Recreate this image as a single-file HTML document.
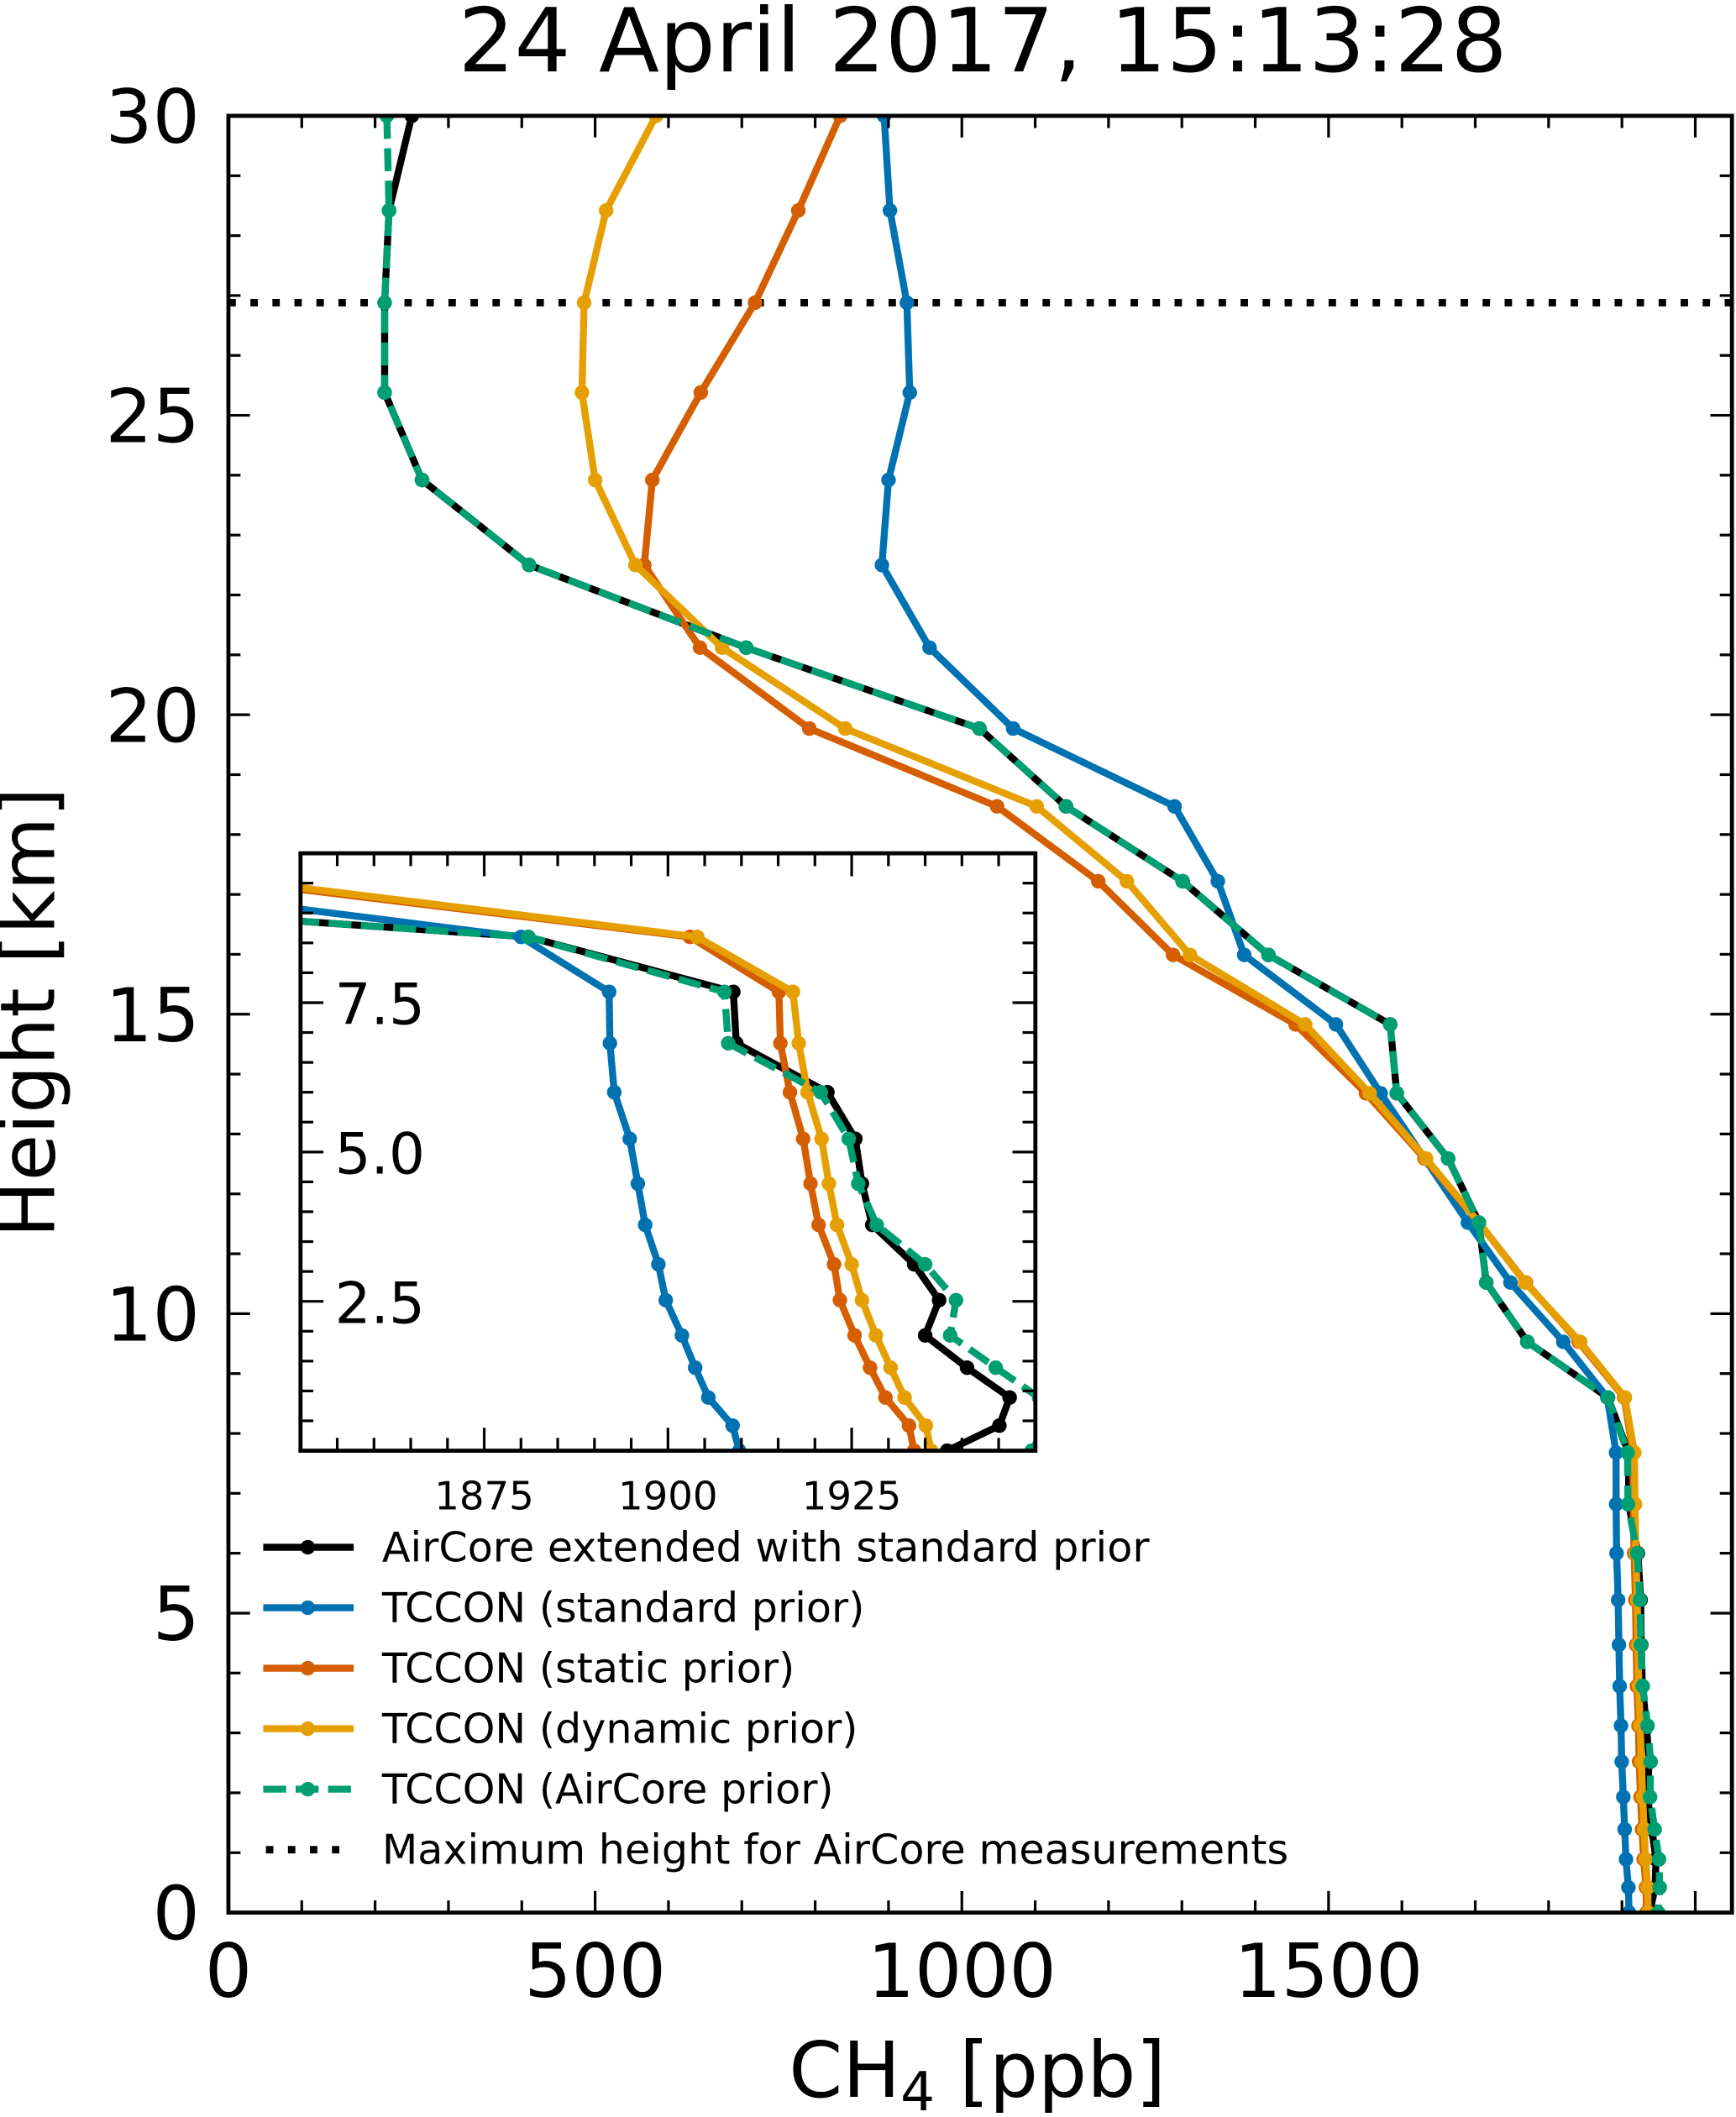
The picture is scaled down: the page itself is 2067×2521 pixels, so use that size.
<!DOCTYPE html>
<html><head><meta charset="utf-8"><title>CH4 profile 24 April 2017</title>
<style>html,body{margin:0;padding:0;background:#fff;}svg{display:block;}text{font-family:"DejaVu Sans","Liberation Sans",sans-serif;fill:#000;}</style>
</head><body>
<svg id="chart" xmlns="http://www.w3.org/2000/svg" width="2067" height="2521" viewBox="0 0 1286 1568" preserveAspectRatio="none">
<defs>
<clipPath id="mainClip"><rect x="169.2" y="85.8" width="1113.8" height="1330.8"/></clipPath>
<clipPath id="insetClip"><rect x="222.6" y="632" width="544.4" height="442.5"/></clipPath>
</defs>
<rect x="0" y="0" width="1286" height="1568" fill="#fff"/>
<text x="728" y="53" font-size="65.5" text-anchor="middle">24 April 2017, 15:13:28</text>
<g id="main"></g>
<g id="inset"></g>
<g id="legend"></g>
<text transform="translate(40,750) rotate(-90)" font-size="56" text-anchor="middle">Height [km]</text>
<text x="724" y="1553" font-size="57" text-anchor="middle">CH<tspan font-size="40" dy="10">4</tspan><tspan dy="-10"> [ppb]</tspan></text>
</svg>
<script>
const heights = [30.0,28.42,26.88,25.38,23.92,22.5,21.12,19.77,18.47,17.22,15.99,14.83,13.68,12.59,11.52,10.52,9.53,8.6,7.68,6.82,6.0,5.22,4.47,3.78,3.12,2.52,1.93,1.39,0.89,0.42,0.0];
const aircore = [250,219,213,213,264,410,706,1024,1142,1301,1418,1584,1593,1663,1705,1715,1771,1881,1908.9,1909.3,1921.7,1925.5,1926.4,1927.8,1933.5,1936.9,1935.0,1940.7,1946.5,1945.1,1938.0];
const stdPrior = [894,902,925,929,900,891,956,1070,1290,1349,1385,1510,1571,1631,1690,1748,1820,1880,1892.0,1892.1,1892.7,1894.8,1895.9,1896.9,1898.7,1899.7,1901.9,1903.7,1905.5,1908.8,1909.7];
const staticPrior = [834,777,718,644,578,567,643,792,1048,1186,1288,1455,1551,1631,1705,1769,1841,1903,1915.1,1915.3,1916.6,1918.4,1919.4,1920.5,1922.6,1923.4,1925.4,1927.5,1929.6,1932.8,1933.5];
const dynamicPrior = [583,515,485,482,500,555,673,841,1102,1225,1311,1468,1556,1633,1705,1768,1843,1904,1917.0,1917.8,1919.0,1920.9,1921.9,1923.0,1925.0,1926.4,1928.3,1930.3,1932.2,1935.1,1935.8];
const aircorePrior = [216,219,213,213,264,410,706,1024,1142,1301,1418,1584,1593,1663,1705,1715,1771,1881,1907.7,1908.2,1920.8,1924.6,1925.9,1928.4,1935.0,1939.2,1938.4,1944.6,1950.5,1951.5,1949.5];
const maxAircoreHeight = [26.88];
const mainXTicks = [0,500,1000,1500];
const mainYTicks = [0,5,10,15,20,25,30];
const insetXTicks = [1875,1900,1925];
const insetYTicks = [2.5,5.0,7.5];
const legendLabels = ["AirCore extended with standard prior","TCCON (standard prior)","TCCON (static prior)","TCCON (dynamic prior)","TCCON (AirCore prior)","Maximum height for AirCore measurements"];

const NS = "http://www.w3.org/2000/svg";
function mk(tag, attrs, parent){const e=document.createElementNS(NS,tag);for(const k in attrs)e.setAttribute(k,attrs[k]);if(parent)parent.appendChild(e);return e;}

const M = {l:169.2,r:1283,t:85.8,b:1416.6,x0:0,x1:2050,y0:0,y1:30};
const I = {l:222.6,r:767,t:632,b:1074.5,x0:1850,x1:1950,y0:0,y1:10};
function sx(a,v){return a.l+(v-a.x0)/(a.x1-a.x0)*(a.r-a.l);}
function sy(a,v){return a.b-(v-a.y0)/(a.y1-a.y0)*(a.b-a.t);}

const LW = 5.2, MR = 5.4, DASH = "17 7";
const series = [
  {name:"aircore-extended", vals:aircore, color:"#000000", dash:null},
  {name:"tccon-standard-prior", vals:stdPrior, color:"#0072B2", dash:null},
  {name:"tccon-static-prior", vals:staticPrior, color:"#D55E00", dash:null},
  {name:"tccon-dynamic-prior", vals:dynamicPrior, color:"#E69F00", dash:null},
  {name:"tccon-aircore-prior", vals:aircorePrior, color:"#009E73", dash:DASH}
];

function drawAxes(g, a, xt, xminor, yt, yminor, major, minor, pref){
  for(let v=Math.ceil(a.x0/xminor)*xminor; v<=a.x1+1e-9; v+=xminor){
    const isMaj = (Math.abs(v % (xt[1]-xt[0]))<1e-6);
    const L = isMaj?major:minor; const x=sx(a,v);
    const t1=mk('line',{x1:x,y1:a.b,x2:x,y2:a.b-L,stroke:'#000','stroke-width':2},g);
    
    
    const t2=mk('line',{x1:x,y1:a.t,x2:x,y2:a.t+L,stroke:'#000','stroke-width':2},g);
    
    
  }
  for(let v=Math.ceil(a.y0/yminor)*yminor; v<=a.y1+1e-9; v+=yminor){
    const r=Math.round(v*1000)/1000;
    const isMaj = Math.abs((r/(yt[1]-yt[0])) - Math.round(r/(yt[1]-yt[0])))<1e-6;
    const L = isMaj?major:minor; const y=sy(a,r);
    const t1=mk('line',{x1:a.l,y1:y,x2:a.l+L,y2:y,stroke:'#000','stroke-width':2},g);
    
    
    const t2=mk('line',{x1:a.r,y1:y,x2:a.r-L,y2:y,stroke:'#000','stroke-width':2},g);
    
    
  }
}

function drawSeries(g, a, clip, pref, withDotted){
  const cg = mk('g',{'clip-path':'url(#'+clip+')'},g);
  
  
  if(withDotted){
    const y=sy(a,maxAircoreHeight[0]);
    const dl=mk('line',{x1:a.l,y1:y,x2:a.r,y2:y,stroke:'#000','stroke-width':5.5,'stroke-dasharray':'5.5 10.8'},cg);
    
    
  }
  series.forEach(s=>{
    const sg=mk('g',{},cg);
    
    
    const pts = s.vals.map((v,i)=>sx(a,v).toFixed(2)+','+sy(a,heights[i]).toFixed(2)).join(' ');
    const at={points:pts,fill:'none',stroke:s.color,'stroke-width':LW,'stroke-linejoin':'round'};
    if(s.dash) at['stroke-dasharray']=s.dash;
    const pl=mk('polyline',at,sg);
    
    
    s.vals.forEach((v,i)=>{
      const c=mk('circle',{cx:sx(a,v),cy:sy(a,heights[i]),r:MR,fill:s.color},sg);
      
      
    });
  });
}

// main
const mg=document.getElementById('main');
drawSeries(mg,M,'mainClip','main-',true);
drawAxes(mg,M,mainXTicks,100,mainYTicks,1,16,9,'main-');
const mf=mk('rect',{x:M.l,y:M.t,width:M.r-M.l,height:M.b-M.t,fill:'none',stroke:'#000','stroke-width':3},mg);


mainXTicks.forEach(v=>{
  const t=mk('text',{x:sx(M,v),y:1479,'font-size':55,'text-anchor':'middle'},mg);
  t.textContent=String(v);
  
  
});
mainYTicks.forEach(v=>{
  const t=mk('text',{x:148,y:sy(M,v)+20,'font-size':55,'text-anchor':'end'},mg);
  t.textContent=String(v);
  
  
});

// inset
const ig=document.getElementById('inset');
const ibg=mk('rect',{x:I.l,y:I.t,width:I.r-I.l,height:I.b-I.t,fill:'#fff'},ig);


drawSeries(ig,I,'insetClip','inset-',false);
drawAxes(ig,I,insetXTicks,5,insetYTicks,0.5,17,9.5,'inset-');
const inf=mk('rect',{x:I.l,y:I.t,width:I.r-I.l,height:I.b-I.t,fill:'none',stroke:'#000','stroke-width':3},ig);


insetXTicks.forEach(v=>{
  const t=mk('text',{x:sx(I,v),y:1118,'font-size':29,'text-anchor':'middle'},ig);
  t.textContent=String(v);
  
  
});
insetYTicks.forEach(v=>{
  const t=mk('text',{x:248,y:sy(I,v)+16,'font-size':42,'text-anchor':'start'},ig);
  t.textContent=v.toFixed(1);
  
  
});

// legend
const lg=document.getElementById('legend');
const legendColors=["#000000","#0072B2","#D55E00","#E69F00","#009E73","#000000"];
legendLabels.forEach((lab,i)=>{
  const y=1146+i*44.8;
  const eg=mk('g',{},lg);
  
  
  if(i<5){
    const at={x1:195,y1:y,x2:262,y2:y,stroke:legendColors[i],'stroke-width':LW};
    if(i===4) at['stroke-dasharray']=DASH;
    const l=mk('line',at,eg);
    
    
    const c=mk('circle',{cx:228,cy:y,r:MR,fill:legendColors[i]},eg);
    
    
  } else {
    const l=mk('line',{x1:197,y1:y,x2:262,y2:y,stroke:'#000','stroke-width':5.5,'stroke-dasharray':'5.5 10.8'},eg);
    
    
  }
  const t=mk('text',{x:283,y:y+10.5,'font-size':30.6},eg);
  t.textContent=lab;
  
  
});
</script>
</body></html>
